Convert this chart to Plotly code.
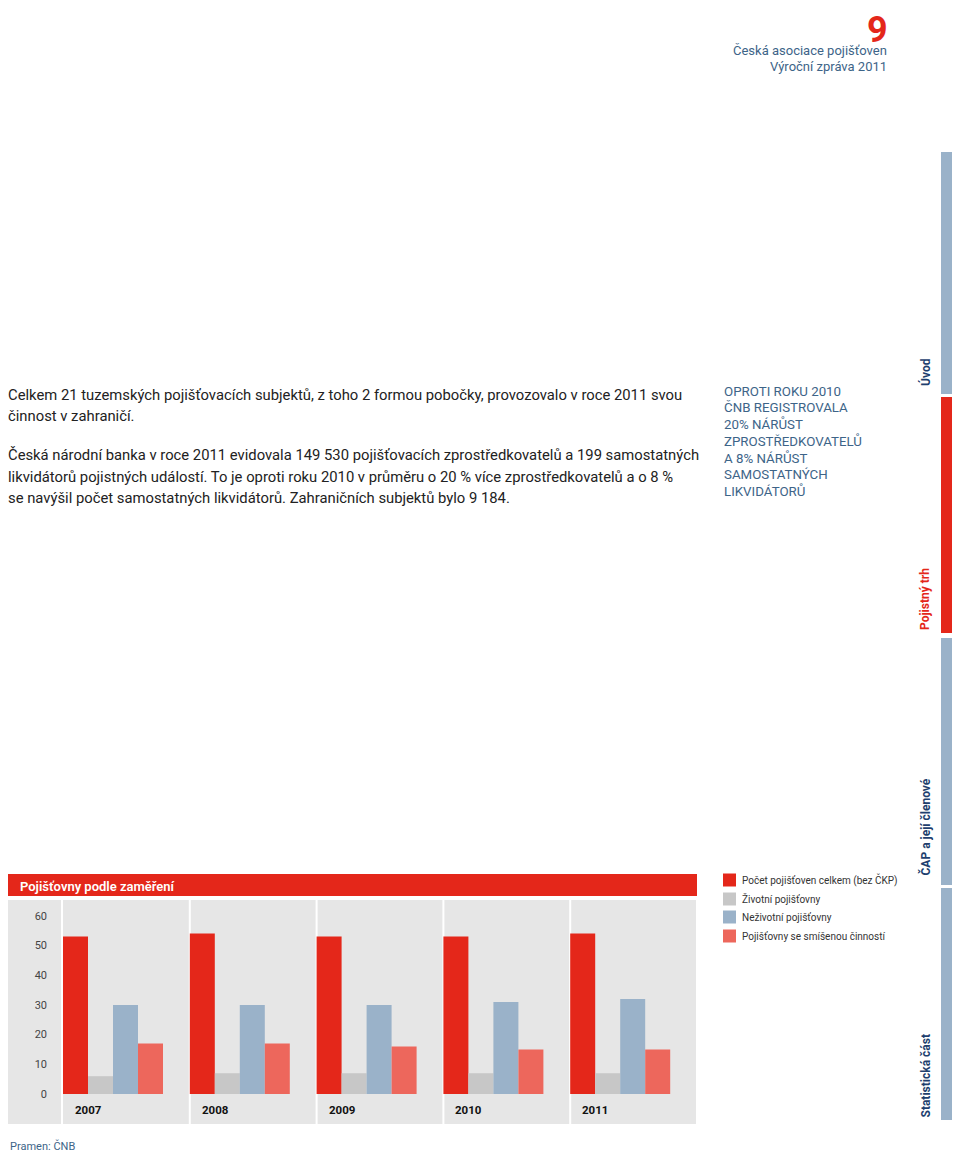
import plotly.graph_objects as go

# ---------------- data ----------------
years = ["2007", "2008", "2009", "2010", "2011"]
total = [53, 54, 53, 53, 54]        # Počet pojišťoven celkem (bez ČKP)
life = [6, 7, 7, 7, 7]              # Životní pojišťovny
nonlife = [30, 30, 30, 31, 32]      # Neživotní pojišťovny
mixed = [17, 17, 16, 15, 15]        # Pojišťovny se smíšenou činností
series_names = ["Počet pojišťoven celkem (bez ČKP)", "Životní pojišťovny",
                "Neživotní pojišťovny", "Pojišťovny se smíšenou činností"]
y_ticks = [0, 10, 20, 30, 40, 50, 60]

chart_title = "Pojišťovny podle zaměření"
source = "Pramen: ČNB"
para_lines = [
    "Celkem 21 tuzemských pojišťovacích subjektů, z toho 2 formou pobočky, provozovalo v roce 2011 svou",
    "činnost v zahraničí.",
    "Česká národní banka v roce 2011 evidovala 149 530 pojišťovacích zprostředkovatelů a 199 samostatných",
    "likvidátorů pojistných událostí. To je oproti roku 2010 v průměru o 20 % více zprostředkovatelů a o 8 %",
    "se navýšil počet samostatných likvidátorů. Zahraničních subjektů bylo 9 184.",
]
callout_lines = ["OPROTI ROKU 2010", "ČNB REGISTROVALA", "20% NÁRŮST", "ZPROSTŘEDKOVATELŮ",
                 "A 8% NÁRŮST", "SAMOSTATNÝCH", "LIKVIDÁTORŮ"]
tabs = ["Úvod", "Pojistný trh", "ČAP a její členové", "Statistická část"]

# ---------------- styles ----------------
RED = "#e4271a"
GREY = "#c7c7c7"
BLUE = "#9ab2c9"
SALMON = "#ed675c"
PANEL = "#e6e6e6"
TXT_BLUE = "#3d6488"
DARK_BLUE = "#1e3f6e"
FONT = "Roboto"

PAGE_OFF = 8                     # default body margin of the html page
W, H = 960 - PAGE_OFF, 1152 - PAGE_OFF
L, R, T, B = 63, 697, 900, 1124  # plot area in page pixels
PX_PER_UNIT = 2.97
Y0 = 1094


def px(x):
    return (x - L) / (R - L)


def py(y):
    return (B - y) / (B - T)


ymin = -(B - Y0) / PX_PER_UNIT
ymax = (Y0 - T) / PX_PER_UNIT
unit = (R - L) / len(years)
bw = 25 / unit

fig = go.Figure()
colors = [RED, GREY, BLUE, SALMON]
for k, (name, vals, c) in enumerate(zip(series_names, [total, life, nonlife, mixed], colors)):
    fig.add_trace(go.Bar(x=years, y=vals, name=name, marker_color=c, marker_line_width=0,
                         width=bw, offset=-0.5 + k * bw, showlegend=False))

shapes = []
for i in range(len(years)):
    shapes.append(dict(type="rect", xref="x", yref="paper", x0=i - 0.5 + (0.0 if i == 0 else 1 / unit),
                       x1=i + 0.5 - 1 / unit, y0=0, y1=1, fillcolor=PANEL, line_width=0, layer="below"))
shapes.append(dict(type="rect", xref="paper", yref="paper", x0=px(7), x1=px(61), y0=0, y1=1,
                   fillcolor=PANEL, line_width=0, layer="below"))
shapes.append(dict(type="rect", xref="paper", yref="paper", x0=px(7), x1=px(697), y0=py(896), y1=py(874),
                   fillcolor=RED, line_width=0, layer="below"))
tab_spans = [(152, 394), (397, 633), (638, 885), (888, 1120)]
tab_text_bottom = [388, 632, 878, 1120]
tab_fill = [BLUE, RED, BLUE, BLUE]
tab_txt = [DARK_BLUE, RED, DARK_BLUE, DARK_BLUE]
for (a, b), c in zip(tab_spans, tab_fill):
    shapes.append(dict(type="rect", xref="paper", yref="paper", x0=px(941), x1=px(961), y0=py(b), y1=py(a),
                       fillcolor=c, line_width=0, layer="below"))
leg_y = [880, 899, 917, 936]
for yy, c in zip(leg_y, colors):
    shapes.append(dict(type="rect", xref="paper", yref="paper", x0=px(723), x1=px(736), y0=py(yy + 6.5),
                       y1=py(yy - 6.5), fillcolor=c, line_width=0))

ann = []
for i, yr in enumerate(years):
    ann.append(dict(x=i - 0.5 + 10 / unit, y=-(1110 - Y0) / PX_PER_UNIT, xref="x", yref="y", text=yr,
                    showarrow=False, xanchor="left", yanchor="middle",
                    font=dict(family=FONT, size=11.5, color="#111111", weight="bold")))
ann.append(dict(x=px(18), y=py(886), xref="paper", yref="paper", text=chart_title, showarrow=False,
                xanchor="left", yanchor="middle", font=dict(family=FONT, size=13, color="white", weight=600)))
ann.append(dict(x=px(8), y=py(1146), xref="paper", yref="paper", text=source, showarrow=False,
                xanchor="left", yanchor="middle", font=dict(family=FONT, size=11, color=TXT_BLUE)))
for yy, name in zip(leg_y, series_names):
    ann.append(dict(x=px(740), y=py(yy), xref="paper", yref="paper", text=name, showarrow=False,
                    xanchor="left", yanchor="middle", font=dict(family=FONT, size=10, color="#333333")))
para_y = [395, 416, 455, 477, 498]
for yy, t in zip(para_y, para_lines):
    ann.append(dict(x=px(6), y=py(yy), xref="paper", yref="paper", text=t, showarrow=False,
                    xanchor="left", yanchor="middle", font=dict(family=FONT, size=14.8, color="#222222")))
for j, t in enumerate(callout_lines):
    ann.append(dict(x=px(722), y=py(391 + j * 16.7), xref="paper", yref="paper", text=t, showarrow=False,
                    xanchor="left", yanchor="middle", font=dict(family=FONT, size=13.3, color=TXT_BLUE)))
ann.append(dict(x=px(889), y=py(PAGE_OFF), xref="paper", yref="paper", text="9", showarrow=False,
                xanchor="right", yanchor="top", borderpad=0,
                font=dict(family=FONT, size=36, color=RED, weight="bold")))
ann.append(dict(x=px(889), y=py(50), xref="paper", yref="paper", text="Česká asociace pojišťoven",
                showarrow=False, xanchor="right", yanchor="middle",
                font=dict(family=FONT, size=13, color=TXT_BLUE)))
ann.append(dict(x=px(889), y=py(66), xref="paper", yref="paper", text="Výroční zpráva 2011",
                showarrow=False, xanchor="right", yanchor="middle",
                font=dict(family=FONT, size=13, color=TXT_BLUE)))
for tb, t, c in zip(tab_text_bottom, tabs, tab_txt):
    ann.append(dict(x=px(925), y=py(tb), xref="paper", yref="paper", text=t, showarrow=False,
                    textangle=-90, xanchor="center", yanchor="bottom",
                    font=dict(family=FONT, size=12, color=c, weight="bold")))

fig.update_layout(
    width=W, height=H,
    margin=dict(l=L - PAGE_OFF, r=(W + PAGE_OFF) - R, t=T - PAGE_OFF, b=(H + PAGE_OFF) - B, pad=0),
    paper_bgcolor="white", plot_bgcolor="white",
    barmode="overlay",
    shapes=shapes, annotations=ann,
    xaxis=dict(type="category", range=[-0.5, len(years) - 0.5], showticklabels=False, showgrid=False,
               zeroline=False, showline=False, ticks=""),
    yaxis=dict(range=[ymin, ymax], tickvals=y_ticks, showgrid=False, zeroline=False, showline=False,
               ticks="", ticklabelstandoff=15, tickfont=dict(family=FONT, size=11, color="#444444")),
    font=dict(family=FONT),
)

fig.write_html("out.html")
